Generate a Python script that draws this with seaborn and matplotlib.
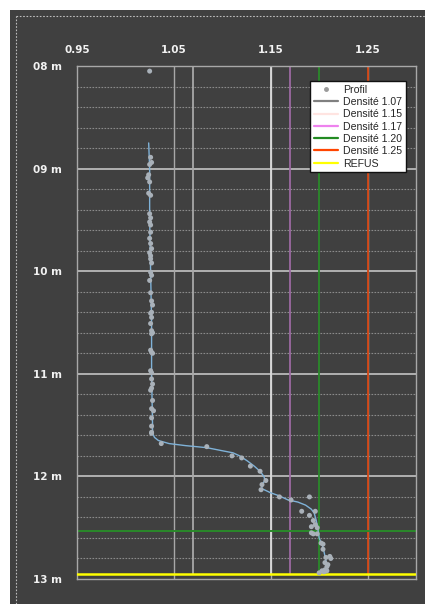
from matplotlib import pyplot as plt
from matplotlib.lines import Line2D
from matplotlib.patches import Rectangle
import matplotlib.ticker as mticker
import seaborn as sns
import pandas as pd

# fmt: off
# measured profile points (depth in m, density)
POINT_DEPTH = [
    8.05,
    8.89, 8.94, 8.96, 9.06, 9.09, 9.13, 9.24, 9.26, 9.44, 9.48, 9.52, 9.55,
    9.62, 9.68, 9.73, 9.78, 9.82, 9.85, 9.88, 9.92, 10.01, 10.04, 10.09,
    10.21, 10.29, 10.33, 10.40, 10.41, 10.45, 10.51, 10.58, 10.60, 10.61,
    10.77, 10.79, 10.80, 10.97, 10.99, 11.05, 11.10, 11.14, 11.16, 11.26,
    11.34, 11.36, 11.43, 11.51, 11.57, 11.58,
    11.68, 11.71, 11.80, 11.82, 11.90, 11.95, 12.04, 12.08, 12.13, 12.20,
    12.23, 12.20, 12.34, 12.34, 12.38,
    12.43, 12.47, 12.49, 12.50, 12.55, 12.56, 12.56, 12.65, 12.66, 12.71,
    12.79, 12.78, 12.80, 12.84, 12.86, 12.88, 12.91, 12.92, 12.92, 12.94, 12.93,
]
POINT_DENSITY = [
    1.025,
    1.026, 1.027, 1.025, 1.024, 1.023, 1.025, 1.024, 1.026, 1.025, 1.026, 1.025, 1.026,
    1.026, 1.025, 1.026, 1.027, 1.025, 1.026, 1.026, 1.027, 1.026, 1.027, 1.025,
    1.026, 1.027, 1.028, 1.027, 1.026, 1.027, 1.026, 1.027, 1.028, 1.027,
    1.026, 1.027, 1.028, 1.026, 1.027, 1.027, 1.028, 1.027, 1.026, 1.028,
    1.027, 1.029, 1.027, 1.027, 1.027, 1.027,
    1.037, 1.084, 1.110, 1.120, 1.129, 1.139, 1.145, 1.141, 1.140, 1.159,
    1.171, 1.190, 1.182, 1.196, 1.190,
    1.194, 1.196, 1.192, 1.198, 1.192, 1.194, 1.198, 1.202, 1.204, 1.204,
    1.207, 1.211, 1.212, 1.206, 1.209, 1.208, 1.206, 1.203, 1.208, 1.200, 1.205,
]

# smoothed profile curve
CURVE_DEPTH = [
    8.75, 9.00, 9.50, 10.00, 10.50, 11.00, 11.50, 11.58, 11.62, 11.65, 11.68,
    11.70, 11.72, 11.75, 11.77, 11.80, 11.85, 11.90, 11.95, 12.00, 12.04,
    12.08, 12.12, 12.16, 12.19, 12.23, 12.25, 12.28, 12.32, 12.36, 12.43,
    12.53, 12.60, 12.69, 12.82, 12.94,
]
CURVE_DENSITY = [
    1.024, 1.025, 1.025, 1.026, 1.027, 1.027, 1.028, 1.028, 1.030, 1.034, 1.045,
    1.062, 1.084, 1.100, 1.111, 1.118, 1.126, 1.133, 1.139, 1.143, 1.144,
    1.141, 1.141, 1.150, 1.159, 1.168, 1.178, 1.186, 1.192, 1.195, 1.197,
    1.199, 1.200, 1.204, 1.207, 1.207,
]

DENSITY_LABELS = ["Densité 1.07", "Densité 1.15", "Densité 1.17", "Densité 1.20", "Densité 1.25"]
DENSITY_VALUES = [1.07, 1.15, 1.17, 1.20, 1.25]
DENSITY_COLORS = ["#808080", "#ffe4e1", "#ee82ee", "#228b22", "#ff4500"]
DENSITY_PLOT_COLORS = ["#a8a8a8", "#dcdcdc", "#9c6aa2", "#2a8a2a", "#d44512"]

CROSS_120_DEPTH = 12.53
REFUS_DEPTH = 12.95
# fmt: on

BG = "#404040"
TXT = "#f2f2f2"

sns.set_theme(style="dark")
plt.rcParams["font.family"] = ["DejaVu Sans"]

fig = plt.figure(figsize=(4.25, 6.04), dpi=100, facecolor="white")
fig.add_artist(Rectangle((10 / 425, 0), 1, 594 / 604, transform=fig.transFigure,
                         facecolor=BG, edgecolor="none", zorder=-10))
fig.add_artist(Line2D([16 / 425, 16 / 425], [0, 588 / 604], transform=fig.transFigure,
                      color="#bdbdbd", lw=0.8, ls=(0, (1.5, 1.5))))
fig.add_artist(Line2D([16 / 425, 1], [588 / 604, 588 / 604], transform=fig.transFigure,
                      color="#bdbdbd", lw=0.8, ls=(0, (1.5, 1.5))))

ax = fig.add_axes([77 / 425, 25 / 604, 339 / 425, 513 / 604])
ax.set_facecolor(BG)

# grid
for d in [9, 10, 11, 12]:
    ax.axhline(d, color="#cfcfcf", lw=1.1, zorder=1)
for i in range(40, 65):
    d = i / 5
    if abs(d - round(d)) > 1e-6:
        ax.axhline(d, color="#8a8a8a", lw=0.8, ls=(0, (1.5, 1.2)), zorder=1)
for v in [1.05, 1.15, 1.25]:
    ax.axvline(v, color="#a8a8a8", lw=1.0, zorder=1)

for v, c in zip(DENSITY_VALUES, DENSITY_PLOT_COLORS):
    ax.plot([v, v], [8.0, REFUS_DEPTH], color=c, lw=1.3, zorder=2)

ax.axhline(CROSS_120_DEPTH, color="#2a8a2a", lw=1.4, zorder=2)
ax.axhline(REFUS_DEPTH, color="#ffff00", lw=1.8, zorder=3)

curve = pd.DataFrame({"depth": CURVE_DEPTH, "density": CURVE_DENSITY})
points = pd.DataFrame({"depth": POINT_DEPTH, "density": POINT_DENSITY})
sns.lineplot(data=curve, x="density", y="depth", sort=False, estimator=None,
             color="#7fb2d8", lw=1.0, ax=ax, zorder=4)
sns.scatterplot(data=points, x="density", y="depth", color="#a9b1b9", s=13,
                edgecolor="none", ax=ax, zorder=5)

ax.set_xlim(0.95, 1.30)
ax.set_ylim(13.0, 8.0)
ax.set_xlabel("")
ax.set_ylabel("")
ax.xaxis.set_major_locator(mticker.FixedLocator([0.95, 1.05, 1.15, 1.25]))
ax.xaxis.set_major_formatter(mticker.FormatStrFormatter("%.2f"))
ax.yaxis.set_major_locator(mticker.FixedLocator([8, 9, 10, 11, 12, 13]))
ax.yaxis.set_major_formatter(mticker.FuncFormatter(lambda v, p: f"{int(round(v)):02d} m"))
ax.tick_params(axis="x", top=True, bottom=False, labeltop=True, labelbottom=False,
               length=0, pad=8, labelsize=7.5, labelcolor=TXT)
ax.tick_params(axis="y", length=0, pad=11, labelsize=7.5, labelcolor=TXT)
for lbl in ax.get_xticklabels() + ax.get_yticklabels():
    lbl.set_fontweight("bold")
ax.grid(False)
for s in ax.spines.values():
    s.set_visible(True)
    s.set_color("#a8a8a8")
    s.set_linewidth(1.0)

handles = [Line2D([], [], ls="none", marker="o", ms=2.5, color="#9a9a9a")]
handles += [Line2D([], [], color=c, lw=1.6) for c in DENSITY_COLORS]
handles += [Line2D([], [], color="#ffff00", lw=1.6)]
labels = ["Profil"] + DENSITY_LABELS + ["REFUS"]
leg = ax.legend(handles, labels, loc="upper right", bbox_to_anchor=(0.971, 0.971),
                borderaxespad=0, frameon=True, fancybox=False, framealpha=1,
                facecolor="white", edgecolor="#111111",
                prop={"family": "Liberation Sans", "size": 7.6},
                labelspacing=0.22, handlelength=2.3, handletextpad=0.5,
                borderpad=0.35)
leg.get_frame().set_linewidth(1.0)
leg.set_zorder(10)

fig.savefig("out.png", dpi=100, facecolor=fig.get_facecolor())
